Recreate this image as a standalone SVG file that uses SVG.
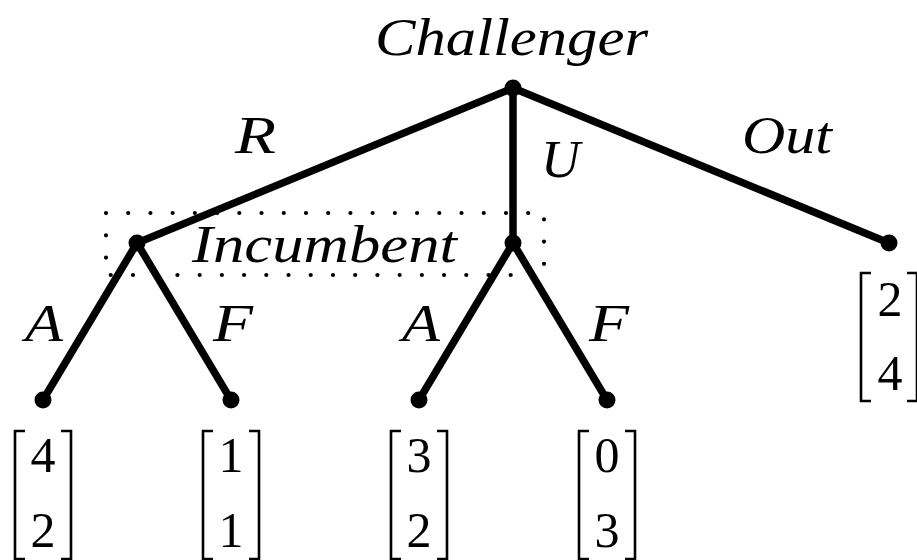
<svg xmlns="http://www.w3.org/2000/svg" width="917" height="560" viewBox="0 0 917 560">
<defs>
<g id="vec">
<path stroke="#000" stroke-width="2.6" fill="none" d="M-18,0 H-28 V128 H-18 M18,0 H28 V128 H18"/>
</g>
</defs>
<g id="connectors" stroke="#000" stroke-width="7.5" stroke-linecap="round" fill="none">
<line x1="513" y1="88" x2="137" y2="243"/>
<line x1="513" y1="88" x2="513" y2="243"/>
<line x1="513" y1="88" x2="889" y2="243"/>
<line x1="137" y1="243" x2="43" y2="400"/>
<line x1="137" y1="243" x2="231" y2="400"/>
<line x1="513" y1="243" x2="419" y2="400"/>
<line x1="513" y1="243" x2="607" y2="400"/>
</g>
<g id="edge-labels">
<text x="235" y="153" font-family="Liberation Serif" font-style="italic" font-size="52" textLength="41" lengthAdjust="spacingAndGlyphs">R</text>
<text x="541" y="177" font-family="Liberation Serif" font-style="italic" font-size="52" textLength="39" lengthAdjust="spacingAndGlyphs">U</text>
<text x="742" y="153" font-family="Liberation Serif" font-style="italic" font-size="52" textLength="90" lengthAdjust="spacingAndGlyphs">Out</text>
<text x="25" y="341" font-family="Liberation Serif" font-style="italic" font-size="52" textLength="38" lengthAdjust="spacingAndGlyphs">A</text>
<text x="213" y="341" font-family="Liberation Serif" font-style="italic" font-size="52" textLength="40" lengthAdjust="spacingAndGlyphs">F</text>
<text x="402" y="341" font-family="Liberation Serif" font-style="italic" font-size="52" textLength="38" lengthAdjust="spacingAndGlyphs">A</text>
<text x="589" y="341" font-family="Liberation Serif" font-style="italic" font-size="52" textLength="40" lengthAdjust="spacingAndGlyphs">F</text>
</g>
<g id="infoset">
<rect x="106" y="213" width="438" height="62" fill="none" stroke="#000" stroke-width="4.2" stroke-linecap="round" stroke-dasharray="0 22.22"/>
<text x="192" y="262" font-family="Liberation Serif" font-style="italic" font-size="52" textLength="265" lengthAdjust="spacingAndGlyphs">Incumbent</text>
</g>
<g id="challenger">
<circle cx="513" cy="88" r="8.5"/>
<text x="375" y="55" font-family="Liberation Serif" font-style="italic" font-size="52" textLength="273" lengthAdjust="spacingAndGlyphs">Challenger</text>
</g>
<g id="incumbent-left"><circle cx="137" cy="243" r="8.5"/></g>
<g id="incumbent-right"><circle cx="513" cy="243" r="8.5"/></g>
<g id="leaf-out">
<circle cx="889" cy="243" r="8.5"/>
<use href="#vec" x="889" y="273"/>
<text x="890" y="316" font-family="Liberation Serif" font-size="50" text-anchor="middle">2</text>
<text x="890" y="390" font-family="Liberation Serif" font-size="50" text-anchor="middle">4</text>
</g>
<g id="leaf-RA">
<circle cx="43" cy="400" r="8.5"/>
<use href="#vec" x="43" y="431"/>
<text x="43" y="472" font-family="Liberation Serif" font-size="50" text-anchor="middle">4</text>
<text x="43" y="547" font-family="Liberation Serif" font-size="50" text-anchor="middle">2</text>
</g>
<g id="leaf-RF">
<circle cx="231" cy="400" r="8.5"/>
<use href="#vec" x="231" y="431"/>
<text x="231" y="472" font-family="Liberation Serif" font-size="50" text-anchor="middle">1</text>
<text x="231" y="547" font-family="Liberation Serif" font-size="50" text-anchor="middle">1</text>
</g>
<g id="leaf-UA">
<circle cx="419" cy="400" r="8.5"/>
<use href="#vec" x="419" y="431"/>
<text x="419" y="472" font-family="Liberation Serif" font-size="50" text-anchor="middle">3</text>
<text x="419" y="547" font-family="Liberation Serif" font-size="50" text-anchor="middle">2</text>
</g>
<g id="leaf-UF">
<circle cx="607" cy="400" r="8.5"/>
<use href="#vec" x="607" y="431"/>
<text x="607" y="472" font-family="Liberation Serif" font-size="50" text-anchor="middle">0</text>
<text x="607" y="547" font-family="Liberation Serif" font-size="50" text-anchor="middle">3</text>
</g>
</svg>
